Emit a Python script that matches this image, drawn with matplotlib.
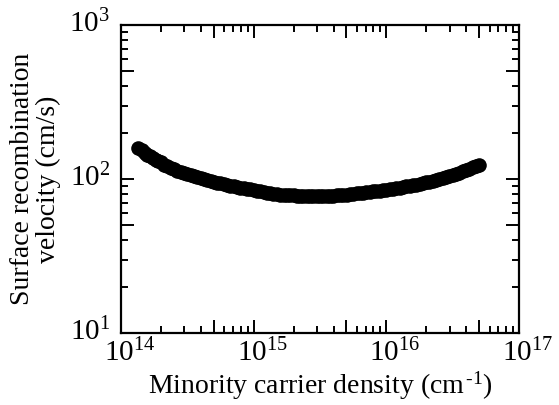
import numpy as np
import matplotlib
matplotlib.use("Agg")
import matplotlib.pyplot as plt
import matplotlib.transforms as mtransforms
from matplotlib.ticker import LogLocator, FuncFormatter, NullFormatter

plt.rcParams['font.family'] = ['Liberation Serif', 'DejaVu Serif']
plt.rcParams['mathtext.fontset'] = 'custom'
plt.rcParams['mathtext.rm'] = 'Liberation Serif'
plt.rcParams['mathtext.it'] = 'Liberation Serif:italic'

# minority carrier density (cm^-1) and surface recombination velocity (cm/s)
density = [1.35e14, 1.43e14, 1.51e14, 1.58e14, 1.66e14, 1.74e14, 1.82e14, 1.91e14, 2.00e14, 2.11e14,
           2.24e14, 2.37e14, 2.51e14, 2.66e14, 2.82e14, 2.99e14, 3.16e14, 3.35e14, 3.55e14, 3.76e14,
           3.98e14, 4.22e14, 4.47e14, 4.73e14, 5.01e14, 5.31e14, 5.62e14, 5.96e14, 6.31e14, 6.68e14,
           7.08e14, 7.50e14, 7.94e14, 8.41e14, 8.91e14, 9.44e14, 1.00e15, 1.06e15, 1.12e15, 1.19e15,
           1.26e15, 1.33e15, 1.41e15, 1.50e15, 1.58e15, 1.68e15, 1.78e15, 1.88e15, 2.00e15, 2.11e15,
           2.24e15, 2.37e15, 2.51e15, 2.66e15, 2.82e15, 2.99e15, 3.16e15, 3.35e15, 3.55e15, 3.76e15,
           3.98e15, 4.22e15, 4.47e15, 4.73e15, 5.01e15, 5.31e15, 5.62e15, 5.96e15, 6.31e15, 6.68e15,
           7.08e15, 7.50e15, 7.94e15, 8.41e15, 8.91e15, 9.44e15, 1.00e16, 1.06e16, 1.12e16, 1.19e16,
           1.26e16, 1.33e16, 1.41e16, 1.50e16, 1.58e16, 1.68e16, 1.78e16, 1.88e16, 2.00e16, 2.11e16,
           2.24e16, 2.37e16, 2.51e16, 2.66e16, 2.82e16, 2.99e16, 3.16e16, 3.35e16, 3.55e16, 3.76e16,
           3.98e16, 4.22e16, 4.47e16, 4.73e16, 5.01e16]
velocity = [160, 154, 148, 144, 140, 136, 133, 130, 128, 124,
            121, 118.5, 116, 113.5, 111, 109, 107, 105.5, 104, 103,
            102, 100.5, 99, 97.5, 96, 94.7, 93.5, 92.5, 91.5, 90.5,
            89.5, 88.7, 88, 87.2, 86.5, 85.5, 84.5, 83.7, 83, 82.2,
            81.5, 80.7, 80, 79.5, 79, 78.7, 78.5, 78.3, 78.2, 78.1,
            78, 77.9, 77.8, 77.7, 77.7, 77.7, 77.7, 77.7, 77.8, 77.9,
            78, 78.2, 78.5, 78.7, 79, 79.5, 80, 80.5, 81, 81.5,
            82, 82.5, 83, 83.5, 84, 84.5, 85, 85.7, 86.5, 87.2,
            88, 88.7, 89.5, 90.2, 91, 92, 93, 94, 95, 96.2,
            97.5, 98.7, 100, 101.5, 103, 104.5, 106, 108, 110, 112,
            114, 116.5, 119, 121.5, 124]

fig = plt.figure(figsize=(5.59, 4.05), dpi=100)
ax = fig.add_axes([0.2165, 0.1778, 0.7119, 0.7605])

ax.plot(density, velocity, 'o', color='black', markersize=10.5, markeredgewidth=0)

ax.set_xscale('log')
ax.set_yscale('log')
ax.set_xlim(1e14, 1e17)
ax.set_ylim(10, 1000)


def decade_label(v, pos):
    e = np.log10(v)
    if abs(e - round(e)) < 1e-6:
        return r'$10^{%d}$' % round(e)
    return ''


for axis in (ax.xaxis, ax.yaxis):
    axis.set_major_locator(LogLocator(base=10, subs=(1.0, 5.0)))
    axis.set_major_formatter(FuncFormatter(decade_label))
    axis.set_minor_locator(LogLocator(base=10, subs=(2, 3, 4, 6, 7, 8, 9)))
    axis.set_minor_formatter(NullFormatter())

ax.tick_params(which='both', direction='in', top=True, right=True, width=1.4, labelsize=21)
ax.tick_params(which='major', length=9.5)
ax.tick_params(which='minor', length=5)
ax.tick_params(axis='x', which='major', pad=4)
ax.tick_params(axis='y', which='major', pad=8)
for s in ax.spines.values():
    s.set_linewidth(1.6)

# base "10" sits centred on the tick, like the original
shift_x = mtransforms.ScaledTranslation(6 / 72, 0, fig.dpi_scale_trans)
for lab in ax.get_xticklabels():
    lab.set_transform(lab.get_transform() + shift_x)
shift_y = mtransforms.ScaledTranslation(0, 3 / 72, fig.dpi_scale_trans)
for lab in ax.get_yticklabels():
    lab.set_transform(lab.get_transform() + shift_y)

ax.set_xlabel(r'Minority carrier density (cm$^{\,\text{-}1}$)', fontsize=20, labelpad=2)
ax.set_ylabel('Surface recombination\nvelocity (cm/s)', fontsize=20, labelpad=6, linespacing=1.05)

fig.savefig('out.png', dpi=100)
